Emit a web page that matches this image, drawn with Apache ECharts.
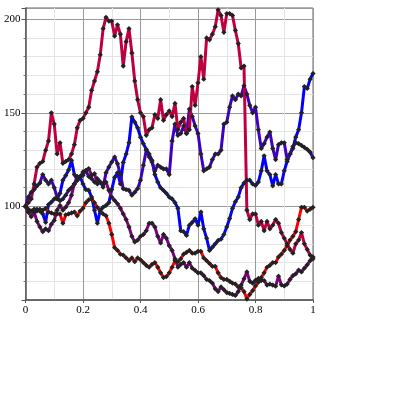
<!DOCTYPE html>
<html><head><meta charset="utf-8">
<script src="https://cdn.jsdelivr.net/npm/echarts@6/dist/echarts.min.js"></script>
<style>html,body{margin:0;padding:0;background:#fff}#c{width:395px;height:395px}</style>
</head><body><div id="c"></div>
<script>
const STEPS = 100;
const xs = Array.from({length: STEPS + 1}, (_, i) => i / STEPS);
const xTickLabels = ['0', '0.2', '0.4', '0.6', '0.8', '1'];
const yTickLabels = [100, 150, 200];

const blue = [100,97,97.5,98.5,98.5,97.5,96,91.5,101,102.3,104,104,107,114,116.5,119.5,124.6,117,114,116,112,109,108.6,105,98,91,98,99.6,100.5,102,109,115.5,118,112,123.5,128,134,147.8,145,142,137,133.5,130.5,128,124.6,117,113,110,108.5,107,105,104,102,99,87,86.5,84.5,90,91.5,93.4,90,97,88,83,76.5,78.2,80,81.8,82.5,85,89,93.5,99,102.5,105,110,112.5,114,114,112,111.2,113,119,127,119,117,111,117,112,112,119,124,128,131,137,141,150,164,163,168,171];
const indigo = [100,105,107.5,109,111,112.5,117,114,112,114,110,105,103,104,106,108.6,110,112,114,115.7,118.4,119,116,114.8,113,114.8,113,110.3,118,121,123.7,126.4,122.8,117,109.5,109,108.6,106,107.6,109.5,114,122,130,126.4,123.7,119,122,121,120,120,117,135,144,138,139,143,139,152,148,143,139,128,119,120,121,125,128,128,130,144,145,153,159,157,160,159,164.5,160,154,150,153,141,131,133.5,137,139.7,131,125,133,134,134,125,128,132,134,133.5,132.6,131.5,130.5,129,126];
const purple = [100,97,94.5,97,92,89,86.5,88,87,90.5,92.5,98,100.5,98,99.6,102,106,112,116,115.7,116.6,119.3,120.2,116.6,117.5,112,113,112,113,108.6,105,103.2,101.4,99,96,93,89,84,81,82,84,85,87,91,91,89,84,80.5,85,83,79,76.5,72,67.5,69,70,67.5,70,67,65.8,64.5,64.5,63,61,60.4,59,56,54.5,57,55.5,54,53.5,53,52.4,54.5,58,61.3,65,60,59,60.5,61.5,60.4,60.4,58,58.5,58,57.4,62.7,58.1,57.5,58.5,61,63,64,66,65,67,68.8,71,73];
const crimson = [100,102,104,112,121,123,124,130,135,150,144,128,134,123,124,125,128,133,142,146,147,150,153,162,167,172,181,195,201,199,199,191,197,192,175,188,195,182,167,157,150,148,138,141,142,149,147,157,146,149,151,148,155,141,145,147,139,141,164,154,166,180,168,190,189,192,196,205,202,193,203,203,202,194,187,174,175,98,93,96,96,90,92,87,92,88,90,93,91,86,83,80,77,75,80,82,86,80,77,74,72];
const red = [100,98.5,97.5,98,97.5,98.5,98,99,97,96.5,96,96,96,91,95.5,96,96.5,97,95,97.5,99,102,103.5,104,102,99.5,97.5,96,95,91,85,78,76.5,74.5,74,72.5,71,72.5,70.5,72.5,71.5,70,68.5,67.5,69,70,67.5,64.5,62,62.5,64.5,67.5,71,70.5,72,74.5,75.5,76.5,75,75,76,76,72.5,71,69.5,68,68,64.5,62,61,61,60,59,58.5,57,56.5,54.5,50.5,53,55,57.5,59.5,62,64.5,67.5,68.5,70,70,73,74.5,76.5,79,82,84,86.5,93,99.5,99.5,97.5,98.5,99.5];

const seriesDefs = [
  {name: 'A', data: blue, color: '#0000ff'},
  {name: 'B', data: indigo, color: '#4000bf'},
  {name: 'C', data: purple, color: '#800080'},
  {name: 'D', data: crimson, color: '#bf0040'},
  {name: 'E', data: red, color: '#ff0000'}
];

const labelFont = {fontFamily: '"Liberation Serif", "DejaVu Serif", serif', fontSize: 11, color: '#000'};

const chart = echarts.init(document.getElementById('c'), null, {renderer: 'canvas'});
chart.setOption({
  animation: false,
  backgroundColor: '#fff',
  grid: {left: 25.5, right: 82, top: 8, bottom: 95, show: true, borderColor: '#666', borderWidth: 1, containLabel: false},
  xAxis: {
    type: 'value', min: 0, max: 1, interval: 0.2,
    axisLine: {show: true, onZero: false, lineStyle: {color: '#555', width: 1.5}},
    axisTick: {show: true, length: 3, lineStyle: {color: '#555'}},
    minorTick: {show: false, splitNumber: 2},
    axisLabel: Object.assign({margin: 5, formatter: (v) => { const i = Math.round(v / 0.2); return xTickLabels[i] !== undefined ? xTickLabels[i] : ''; }}, labelFont),
    splitLine: {show: true, lineStyle: {color: '#999', width: 1}},
    minorSplitLine: {show: true, lineStyle: {color: '#e4e4e4', width: 1}}
  },
  yAxis: {
    type: 'value', min: 50, max: 206, interval: 50,
    axisLine: {show: true, onZero: false, lineStyle: {color: '#555', width: 1.5}},
    axisTick: {show: true, length: 4, lineStyle: {color: '#555'}},
    minorTick: {show: true, splitNumber: 5, length: 2, lineStyle: {color: '#777'}},
    axisLabel: Object.assign({margin: 5, showMaxLabel: false, formatter: (v) => yTickLabels.includes(v) ? String(v) : ''}, labelFont),
    splitLine: {show: true, lineStyle: {color: '#999', width: 1}},
    minorSplitLine: {show: true, lineStyle: {color: '#e4e4e4', width: 1}}
  },
  series: seriesDefs.map(s => ({
    name: s.name,
    type: 'line',
    data: s.data.map((v, i) => [xs[i], v]),
    showSymbol: true,
    symbol: 'emptyDiamond',
    symbolSize: 2.4,
    itemStyle: {color: '#222', borderColor: '#222', borderWidth: 0.6},
    lineStyle: {color: s.color, width: 3},
    emphasis: {disabled: true},
    clip: true
  }))
});
</script></body></html>
